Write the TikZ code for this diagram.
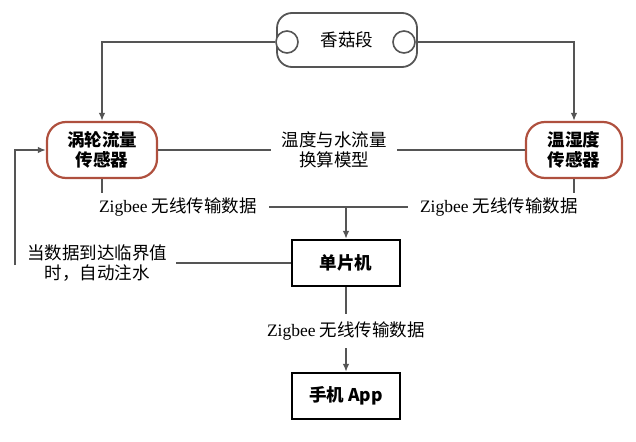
\documentclass[tikz,border=0pt]{standalone}
\usepackage{fontspec}
\setmainfont{Liberation Serif}
\newfontfamily\cjk{Noto Sans CJK SC}
\usetikzlibrary{arrows.meta}
\definecolor{linegray}{RGB}{85,85,85}
\definecolor{sensred}{RGB}{175,80,62}
\begin{document}
\begin{tikzpicture}[x=1pt,y=-1pt,
  conn/.style={draw=linegray, line width=1.6pt},
  arr/.style={conn, -{Latex[length=8pt,width=6.5pt]}},
  sensor/.style={draw=sensred, line width=2.2pt, rounded corners=19pt, minimum height=56pt, align=center, font=\cjk\bfseries\fontsize{17.5}{20}\selectfont, inner sep=0pt},
  box/.style={draw=black, line width=2.2pt, minimum width=108pt, minimum height=46pt, font=\cjk\bfseries\fontsize{17.5}{20}\selectfont},
  lbl/.style={font=\fontsize{17.5}{20}\selectfont, inner xsep=12pt, inner ysep=5pt, align=center},
  ring/.style={circle, draw=linegray, line width=1.6pt, fill=white, minimum size=22pt, inner sep=0pt},
]
\useasboundingbox (0,0) rectangle (636,441);

% top segment
\node[draw=linegray, line width=1.8pt, rounded corners=15pt, minimum width=140pt, minimum height=54pt, font=\cjk\fontsize{17.5}{20}\selectfont] (top) at (347,40) {香菇段};
\node[ring] (cl) at (287,42) {};
\node[ring] (cr) at (404,42) {};

% sensors
\node[sensor, minimum width=110pt] (ls) at (102,150) {涡轮流量\\传感器};
\node[sensor, minimum width=96pt] (rs) at (574,150) {温湿度\\传感器};

\draw[arr] (cl.west) -| (ls.north);
\draw[arr] (cr.east) -| (rs.north);

% model text
\node[lbl, inner xsep=10pt, font=\cjk\fontsize{17.5}{20}\selectfont] (model) at (334,150) {温度与水流量\\换算模型};
\draw[conn] (ls.east) -- (model.west);
\draw[conn] (rs.west) -- (model.east);

% zigbee labels
\node[lbl] (zl) at (178,207) {Zigbee {\cjk 无线传输数据}};
\node[lbl] (zr) at (499,207) {Zigbee {\cjk 无线传输数据}};
\draw[conn] (ls.south) -- (ls.south |- zl.north);
\draw[conn] (rs.south) -- (rs.south |- zr.north);
\draw[conn] (zl.east) -- (zr.west);

% MCU
\node[box] (mcu) at (346,263) {单片机};
\draw[arr] (mcu.north |- zl.east) -- (mcu.north);

% feedback
\node[lbl, inner xsep=9pt, font=\cjk\fontsize{17.5}{20}\selectfont] (fb) at (97,263) {当数据到达临界值\\时，自动注水};
\draw[conn] (fb.east) -- (fb.east -| mcu.west);
\coordinate (fbl) at (15,265);
\draw[arr] (fbl) |- (ls.west);

% phone
\node[lbl, inner ysep=8pt] (z3) at (346,331) {Zigbee {\cjk 无线传输数据}};
\node[box] (phone) at (346,396) {手机 App};
\draw[conn] (mcu.south) -- (z3.north);
\draw[arr] (z3.south) -- (phone.north);
\end{tikzpicture}
\end{document}
